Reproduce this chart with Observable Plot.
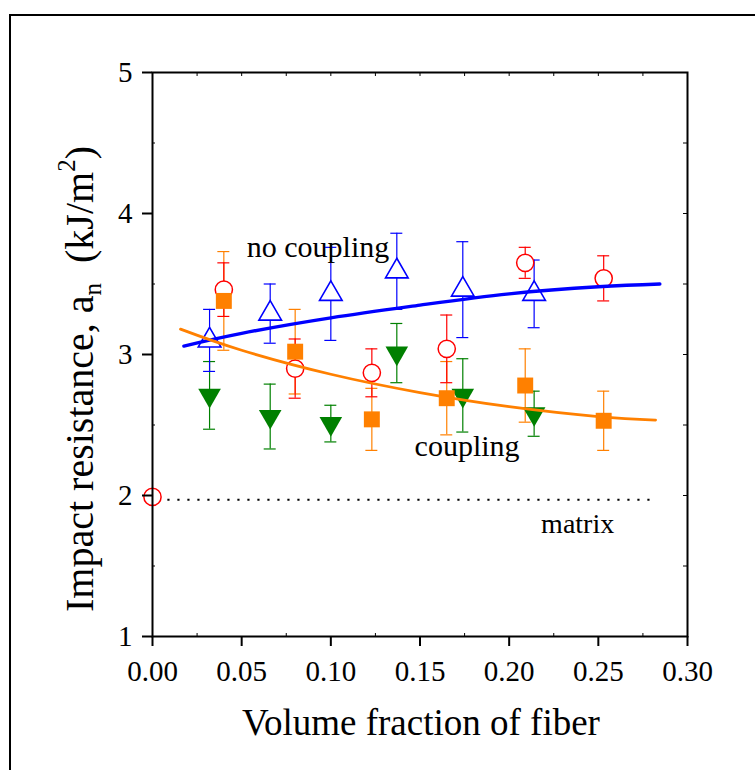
<!DOCTYPE html>
<html><head><meta charset="utf-8">
<script src="https://cdn.jsdelivr.net/npm/d3@7"></script>
<script src="https://cdn.jsdelivr.net/npm/@observablehq/plot@0.6"></script>
<style>
html,body{margin:0;padding:0;background:#fff;}
#wrap{position:relative;width:755px;height:770px;overflow:hidden;}
#border{position:absolute;left:9px;top:14px;width:800px;height:800px;border-left:2px solid #000;border-top:2px solid #000;pointer-events:none;}
</style></head><body>
<div id="wrap"><div id="chart"></div><div id="border"></div></div>
<script>
// ticks
const xMajor = [0, 0.05, 0.10, 0.15, 0.20, 0.25, 0.30];
const xTopTicks = [0.025, 0.05, 0.075, 0.10, 0.125, 0.15, 0.175, 0.20, 0.225, 0.25, 0.275];
const xBottomMinor = [0.025, 0.075, 0.125, 0.175, 0.225, 0.275];
const yMajor = [1, 2, 3, 4, 5];
const yRightTicks = [1.5, 2, 2.5, 3, 3.5, 4, 4.5];
const yLeftMinor = [1.5, 2.5, 3.5, 4.5];

// red open circles
const redX = [0, 0.040, 0.080, 0.123, 0.165, 0.209, 0.253];
const redY = [1.99, 3.46, 2.90, 2.87, 3.04, 3.65, 3.54];
const redErr = [0, 0.19, 0.21, 0.17, 0.24, 0.11, 0.16];
// orange filled squares
const orangeX = [0.040, 0.080, 0.123, 0.165, 0.209, 0.253];
const orangeY = [3.38, 3.02, 2.54, 2.69, 2.78, 2.53];
const orangeErr = [0.35, 0.30, 0.22, 0.26, 0.26, 0.21];
// blue open triangles
const blueX = [0.032, 0.066, 0.100, 0.137, 0.174, 0.214];
const blueY = [3.10, 3.29, 3.43, 3.59, 3.46, 3.43];
const blueErr = [0.22, 0.21, 0.33, 0.27, 0.34, 0.24];
// green filled down triangles
const greenX = [0.032, 0.066, 0.100, 0.137, 0.174, 0.214];
const greenY = [2.71, 2.56, 2.51, 3.01, 2.71, 2.58];
const greenErr = [0.24, 0.23, 0.13, 0.21, 0.26, 0.16];

// fitted curves
const noCouplingX = [0.0176, 0.05, 0.10, 0.15, 0.20, 0.25, 0.2845];
const noCouplingY = [3.06, 3.15, 3.26, 3.35, 3.43, 3.48, 3.50];
const couplingX = [0.0157, 0.05, 0.10, 0.15, 0.20, 0.25, 0.2821];
const couplingY = [3.18, 3.03, 2.86, 2.73, 2.63, 2.56, 2.535];

// matrix level
const matrixY = 1.97;
const matrixX = [0.003, 0.28];

// annotations
const labelText = ["no coupling", "coupling", "matrix"];
const labelX = [0.0928, 0.1764, 0.2384];
const labelY = [3.76, 2.35, 1.80];
const labelSize = [30, 30, 28];

const zip = (xs, ys, es) => xs.map((x, i) => ({x, y: ys[i], e: es ? es[i] : 0}));
const red = zip(redX, redY, redErr);
const orange = zip(orangeX, orangeY, orangeErr);
const blue = zip(blueX, blueY, blueErr);
const green = zip(greenX, greenY, greenErr);
const curveNo = zip(noCouplingX, noCouplingY);
const curveCo = zip(couplingX, couplingY);
const labels = labelText.map((t, i) => ({t, x: labelX[i], y: labelY[i], s: labelSize[i]}));

const sqrt3 = Math.sqrt(3);
const triangleDown = {
  draw(context, size) {
    const y = -Math.sqrt(size / (sqrt3 * 3));
    context.moveTo(0, -y * 2);
    context.lineTo(-sqrt3 * y, y);
    context.lineTo(sqrt3 * y, y);
    context.closePath();
  }
};

const C = {red: "#ff0000", orange: "#ff8000", blue: "#0000ff", green: "#008000"};

function errorBars(data, color) {
  return [
    Plot.ruleX(data.filter(d => d.e > 0), {x: "x", y1: d => d.y - d.e, y2: d => d.y + d.e, stroke: color, strokeWidth: 1.2}),
    Plot.ruleY(data.filter(d => d.e > 0), {y: d => d.y + d.e, x1: "x", x2: "x", insetLeft: -6, insetRight: -6, stroke: color, strokeWidth: 1.2}),
    Plot.ruleY(data.filter(d => d.e > 0), {y: d => d.y - d.e, x1: "x", x2: "x", insetLeft: -6, insetRight: -6, stroke: color, strokeWidth: 1.2})
  ];
}

const plot = Plot.plot({
  width: 755,
  height: 770,
  marginLeft: 152,
  marginRight: 68,
  marginTop: 72,
  marginBottom: 134,
  style: {fontFamily: "Liberation Serif", background: "white", color: "black"},
  x: {domain: [0, 0.30]},
  y: {domain: [1, 5]},
  marks: [
    Plot.ruleY([matrixY], {x1: matrixX[0], x2: matrixX[1], stroke: "black", strokeWidth: 2, strokeDasharray: "2.2,7.8"}),
    ...errorBars(green, C.green),
    ...errorBars(blue, C.blue),
    ...errorBars(orange, C.orange),
    ...errorBars(red, C.red),
    Plot.dot(green, {x: "x", y: "y", symbol: triangleDown, r: 8.4, fill: C.green, stroke: "none"}),
    Plot.dot(blue, {x: "x", y: "y", symbol: "triangle", r: 8.4, fill: "white", stroke: C.blue, strokeWidth: 1.6}),
    Plot.dot(red, {x: "x", y: "y", symbol: "circle", r: 8.6, fill: "white", stroke: C.red, strokeWidth: 1.5}),
    Plot.dot(orange, {x: "x", y: "y", symbol: "square", r: 9, fill: C.orange, stroke: "none"}),
    Plot.line(curveNo, {x: "x", y: "y", curve: "natural", stroke: C.blue, strokeWidth: 3.4}),
    Plot.line(curveCo, {x: "x", y: "y", curve: "natural", stroke: C.orange, strokeWidth: 2.8}),
    Plot.text(labels, {x: "x", y: "y", text: "t", fontSize: d => d.s, fill: "black", textAnchor: "middle"}),
    Plot.frame({stroke: "black", strokeWidth: 2}),
    Plot.ruleX(xTopTicks, {insetBottom: 560, stroke: "black", strokeWidth: 1}),
    Plot.ruleX(xBottomMinor, {insetTop: 561, stroke: "black", strokeWidth: 1}),
    Plot.ruleY(yRightTicks, {insetLeft: 531, stroke: "black", strokeWidth: 1}),
    Plot.ruleY(yLeftMinor, {insetRight: 532, stroke: "black", strokeWidth: 1}),
    Plot.axisX({ticks: xMajor, tickSize: 10, tickPadding: 14, tickFormat: d3.format(".2f"), fontSize: 29, label: null, strokeWidth: 2, fill: "black"}),
    Plot.axisY({ticks: yMajor, tickSize: 10, tickPadding: 10, tickFormat: d3.format("d"), fontSize: 29, label: null, strokeWidth: 2, fill: "black"})
  ]
});

const svg = d3.select(plot);
svg.append("text")
  .attr("x", 421).attr("y", 735)
  .attr("text-anchor", "middle")
  .attr("font-size", 37)
  .attr("fill", "black")
  .text("Volume fraction of fiber");

const yt = svg.append("text")
  .attr("transform", "translate(93,379) rotate(-90)")
  .attr("text-anchor", "middle")
  .attr("font-size", 40)
  .attr("fill", "black");
yt.append("tspan").text("Impact resistance, a");
yt.append("tspan").attr("font-size", 25).attr("dy", 8).text("n");
yt.append("tspan").attr("dy", -8).text("\u00a0\u00a0(kJ/m");
yt.append("tspan").attr("font-size", 25).attr("dy", -18).text("2");
yt.append("tspan").attr("dy", 18).text(")");

document.getElementById("chart").appendChild(plot);
</script>
</body></html>
